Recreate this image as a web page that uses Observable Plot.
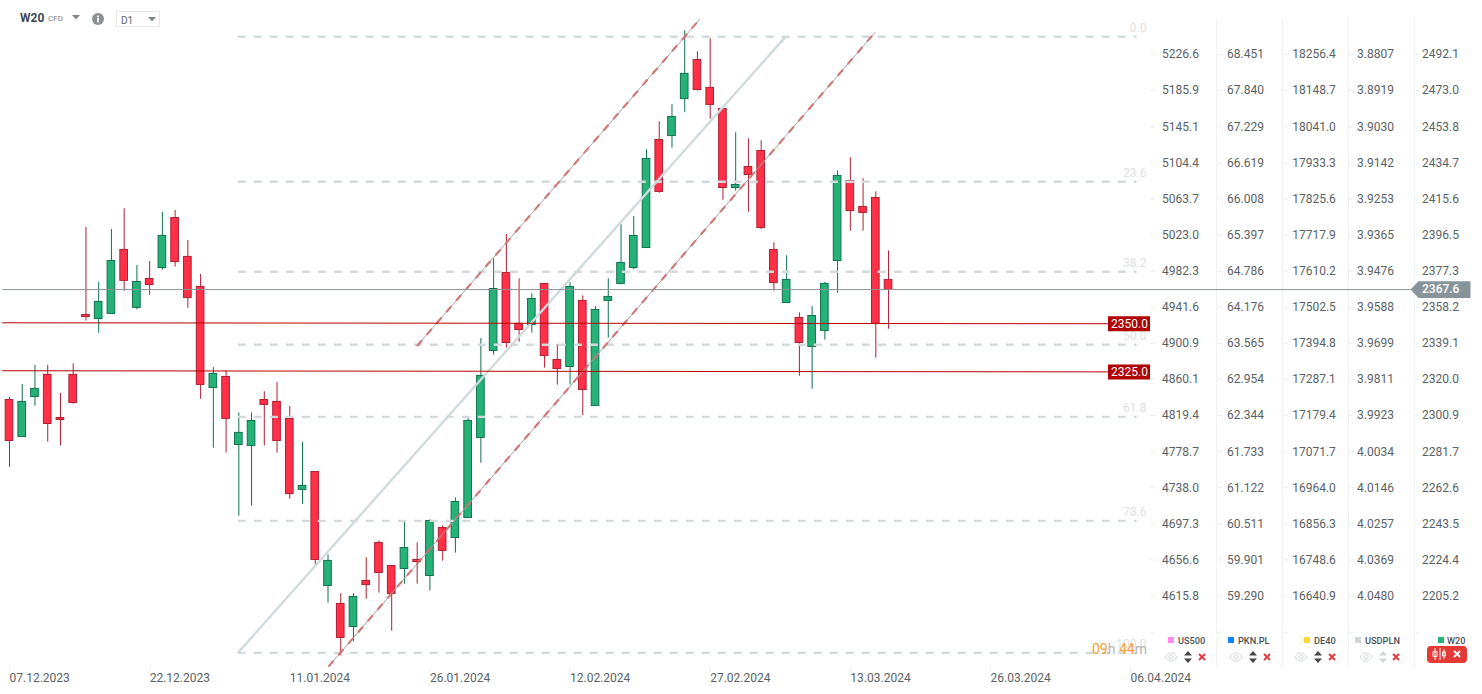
<!DOCTYPE html>
<html><head><meta charset="utf-8">
<script src="https://cdn.jsdelivr.net/npm/d3@7"></script>
<script src="https://cdn.jsdelivr.net/npm/@observablehq/plot@0.6"></script>
<style>
html,body{margin:0;padding:0;background:#fff;width:1482px;height:694px;overflow:hidden;font-family:Roboto,sans-serif}
#wrap{position:relative;width:1482px;height:694px}
#wrap svg.ov{position:absolute;overflow:visible}
.t{position:absolute;white-space:nowrap;line-height:1}
</style></head><body><div id="wrap"></div>
<script>
const opens=[2309.1,2289.5,2310.7,2322.4,2299.6,2322.4,2354.1,2352.0,2354.7,2388.6,2357.9,2373.2,2379.0,2405.5,2384.9,2369.0,2315.5,2321.3,2285.3,2284.8,2309.1,2308.1,2299.1,2261.5,2271.0,2210.6,2201.1,2188.9,2213.3,2233.4,2221.2,2219.6,2224.4,2215.9,2241.3,2236.0,2246.6,2289.0,2335.1,2376.4,2349.4,2348.8,2370.6,2330.3,2326.6,2361.6,2305.9,2361.6,2370.6,2379.0,2389.6,2446.8,2448.9,2468.5,2489.2,2474.4,2463.2,2421.4,2432.5,2441.0,2388.6,2360.5,2352.6,2337.2,2345.7,2382.7,2425.1,2411.3,2416.1,2372.7];
const highs=[2310.5,2317.3,2327.4,2327.4,2312.6,2328.3,2400.5,2371.4,2399.4,2410.4,2380.4,2382.5,2408.4,2409.5,2393.6,2375.6,2326.3,2324.6,2302.3,2302.3,2313.5,2318.4,2305.7,2286.6,2271.1,2227.1,2206.5,2206.5,2225.6,2234.6,2221.3,2244.6,2233.5,2245.7,2242.5,2257.3,2299.2,2341.7,2383.9,2396.8,2373.3,2365.4,2370.7,2338.4,2371.2,2364.3,2358.5,2373.3,2401.9,2406.3,2441.6,2456.5,2465.5,2504.7,2493.5,2500.4,2463.3,2450.6,2447.5,2446.4,2392.4,2385.5,2355.3,2358.5,2371.4,2430.5,2437.4,2426.3,2419.4,2388.1];
const lows=[2273.5,2289.5,2305.8,2286.8,2284.7,2306.9,2350.9,2344.5,2354.7,2366.8,2356.9,2364.6,2377.9,2379.5,2357.7,2309.5,2283.6,2281.0,2247.6,2252.9,2284.7,2281.0,2256.6,2253.9,2221.3,2201.5,2173.6,2181.1,2203.6,2206.8,2186.7,2211.6,2211.6,2207.9,2223.8,2228.0,2246.6,2275.6,2332.9,2336.6,2339.7,2344.5,2326.0,2317.0,2317.0,2300.8,2305.9,2341.9,2370.1,2378.1,2389.6,2418.6,2442.5,2461.5,2472.7,2457.8,2414.9,2419.7,2408.6,2399.3,2366.8,2360.5,2321.7,2314.8,2340.8,2365.7,2398.5,2398.5,2331.3,2346.6];
const closes=[2287.4,2308.1,2315.0,2296.4,2298.5,2307.5,2353.1,2361.0,2382.7,2372.2,2371.6,2370.0,2396.0,2382.2,2363.1,2317.1,2322.9,2299.1,2291.7,2298.0,2306.5,2287.4,2259.3,2263.6,2224.4,2223.9,2183.1,2204.8,2211.1,2217.5,2206.4,2230.7,2223.3,2245.0,2229.2,2255.1,2298.0,2321.8,2367.9,2339.3,2346.2,2362.6,2332.4,2325.5,2369.0,2314.4,2356.8,2363.7,2381.7,2396.0,2436.8,2419.3,2459.0,2481.8,2473.3,2465.4,2421.4,2423.0,2428.3,2400.2,2371.1,2372.7,2339.3,2353.6,2370.6,2427.8,2409.2,2408.2,2349.4,2367.4];

const dateIdx=[0,11,22,33,44,55,66,77,88];
const dateLabels=["07.12.2023","22.12.2023","11.01.2024","26.01.2024","12.02.2024","27.02.2024","13.03.2024","26.03.2024","06.04.2024"];

const tickW20=[2492.1,2473.0,2453.8,2434.7,2415.6,2396.5,2377.3,2358.2,2339.1,2320.0,2300.9,2281.7,2262.6,2243.5,2224.4,2205.2];
const tickUS500=["5226.6","5185.9","5145.1","5104.4","5063.7","5023.0","4982.3","4941.6","4900.9","4860.1","4819.4","4778.7","4738.0","4697.3","4656.6","4615.8"];
const tickPKN=["68.451","67.840","67.229","66.619","66.008","65.397","64.786","64.176","63.565","62.954","62.344","61.733","61.122","60.511","59.901","59.290"];
const tickDE40=["18256.4","18148.7","18041.0","17933.3","17825.6","17717.9","17610.2","17502.5","17394.8","17287.1","17179.4","17071.7","16964.0","16856.3","16748.6","16640.9"];
const tickUSDPLN=["3.8807","3.8919","3.9030","3.9142","3.9253","3.9365","3.9476","3.9588","3.9699","3.9811","3.9923","4.0034","4.0146","4.0257","4.0369","4.0480"];
const tickLabelW20=["2492.1","2473.0","2453.8","2434.7","2415.6","2396.5","2377.3","2358.2","2339.1","2320.0","2300.9","2281.7","2262.6","2243.5","2224.4","2205.2"];

const fibLevels=[2501.5,2424.7,2377.0,2338.4,2300.2,2245.1,2175.2];
const fibLabels=["0.0","23.6","38.2","50.0","61.8","78.6","100.0"];
const midChannelX=[17.97,60.89], midChannelY=[2175.5,2501.3];
const lowChannelX=[25.09,67.95], lowChannelY=[2168.3,2503.9];
const upChannelX=[32.02,54.16], upChannelY=[2338.0,2510.6];
const lastPrice=2367.6;
const level1Y=[2350.0,2349.5], level2Y=[2324.6,2324.0];
const levelLabels=["2350.0","2325.0"];

const GREEN="#26b276",GREEN_D="#0f7350",RED="#ff3047",RED_D="#b01f33";
const ix=px=>(px-9)/12.74;   // frame furniture: pixel to bar index
const idx=d3.range(opens.length);
const isUp=i=>closes[i]>=opens[i];
const axisCol="#5a6266";
const cols=[[1161.5,tickUS500],[1226.5,tickPKN],[1291.7,tickDE40],[1356.5,tickUSDPLN],[1421.5,tickLabelW20]];
const tickDash=[[1150,1155],[1217,1222],[1283,1288],[1349,1354],[1415,1419]];
const tickAll=[...tickW20,2186.1];
const seg=(xs,ys)=>xs.map((x,i)=>({x,y:ys[i]}));

const plot=Plot.plot({
  width:1482,height:694,margin:0,
  style:{background:"transparent",fontFamily:"Roboto,sans-serif",overflow:"visible"},
  x:{type:"linear",domain:[0,88],range:[9,9+12.74*88],axis:null},
  y:{type:"linear",domain:[2492.1,2205.2],range:[54,595.7],axis:null},
  marks:[
    Plot.ruleX([1216,1282,1348,1414].map(ix),{y1:2511.2,y2:2166.9,stroke:"#f1f2f3"}),
    ...tickDash.map(([a,b])=>Plot.ruleY(tickAll,{x1:ix(a),x2:ix(b),stroke:"#eceeef"})),
    Plot.ruleX(dateIdx,{y1:2167.4,y2:2164.7,stroke:"#eceeef"}),
    Plot.ruleX(idx,{x:i=>i,y1:i=>highs[i],y2:i=>lows[i],stroke:i=>isUp(i)?GREEN_D:RED_D,strokeWidth:1,ariaLabel:"wick"}),
    Plot.rect(idx,{x1:i=>i-0.3,x2:i=>i+0.3,y1:i=>Math.max(opens[i],closes[i]),y2:i=>Math.min(opens[i],closes[i]),fill:i=>isUp(i)?GREEN:RED,stroke:i=>isUp(i)?GREEN_D:RED_D,strokeWidth:1,ariaLabel:"body"}),
    Plot.ruleY(fibLevels,{x1:17.96,x2:88.5,stroke:"#d2dade",strokeWidth:2.4,strokeDasharray:"8 8"}),
    Plot.text(fibLevels,{y:d=>d,text:(d,i)=>fibLabels[i],frameAnchor:"right",dx:-336,dy:-9,fill:"#dde1e4",fontSize:12}),
    Plot.line(seg(midChannelX,midChannelY),{x:"x",y:"y",stroke:"#d0dadd",strokeWidth:2.4}),
    Plot.line(seg(lowChannelX,lowChannelY),{x:"x",y:"y",stroke:"#a6a6a6",strokeWidth:1}),
    Plot.line(seg(lowChannelX,lowChannelY),{x:"x",y:"y",stroke:"#cc6f6f",strokeWidth:2.2,strokeDasharray:"6 9",strokeOpacity:0.9}),
    Plot.line(seg(upChannelX,upChannelY),{x:"x",y:"y",stroke:"#a6a6a6",strokeWidth:1}),
    Plot.line(seg(upChannelX,upChannelY),{x:"x",y:"y",stroke:"#cc6f6f",strokeWidth:2.2,strokeDasharray:"6 9",strokeOpacity:0.9}),
    Plot.line(seg([ix(2),ix(1410)],[lastPrice,lastPrice]),{x:"x",y:"y",stroke:"#8b9497",strokeWidth:1}),
    Plot.line(seg([ix(2),ix(1108)],level1Y),{x:"x",y:"y",stroke:"#b80000",strokeWidth:1}),
    Plot.line(seg([ix(2),ix(1108)],level2Y),{x:"x",y:"y",stroke:"#b80000",strokeWidth:1}),
    Plot.ruleY([level1Y[1],level2Y[1]],{x1:ix(1108),x2:ix(1150),stroke:"#b00000",strokeWidth:15}),
    Plot.text([level1Y[1],level2Y[1]],{x:ix(1129),y:d=>d,text:(d,i)=>levelLabels[i],fill:"#fff",fontSize:12}),
    Plot.line(seg([ix(1410),ix(1418),ix(1470),ix(1470),ix(1418)],[lastPrice,lastPrice+4.4,lastPrice+4.4,lastPrice-4.4,lastPrice-4.4]),{x:"x",y:"y",fill:"#88949a",stroke:"none",curve:"linear-closed"}),
    Plot.text([lastPrice],{y:d=>d,text:d=>d.toFixed(1),frameAnchor:"left",dx:1421.5,fill:"#fff",fontSize:12,fontWeight:500}),
    ...cols.map(([x,labels])=>Plot.text(tickW20,{y:d=>d,text:(d,i)=>labels[i],frameAnchor:"left",dx:x,fill:axisCol,fontSize:12})),
    Plot.text(dateIdx,{x:d=>d,text:(d,i)=>dateLabels[i],frameAnchor:"bottom",dy:-13,dx:0,textAnchor:"start",fill:axisCol,fontSize:12})
  ]
});
// snap candles to the pixel grid
plot.querySelectorAll('[aria-label="wick"] line').forEach(l=>{
  const x=Math.floor(+l.getAttribute("x1"));
  l.setAttribute("x1",x);l.setAttribute("x2",x);
  l.setAttribute("y1",Math.round(+l.getAttribute("y1")));
  l.setAttribute("y2",Math.round(+l.getAttribute("y2")));
});
plot.querySelectorAll('[aria-label="body"] rect').forEach(r=>{
  const x=+r.getAttribute("x"),w=+r.getAttribute("width"),y=+r.getAttribute("y"),h=+r.getAttribute("height");
  const col=Math.floor(x+w/2);
  r.setAttribute("x",col-3.5);r.setAttribute("width",8);
  r.setAttribute("y",Math.floor(y)+.5);r.setAttribute("height",Math.max(1,Math.round(h)));
});
const wrap=document.getElementById("wrap");
wrap.appendChild(plot);

function txt(s,x,y,o={}){const e=document.createElement("div");e.className="t";e.textContent=s;
  e.style.left=x+"px";e.style.top=y+"px";e.style.fontSize=(o.size||12)+"px";e.style.color=o.color||"#444";
  if(o.weight)e.style.fontWeight=o.weight;wrap.appendChild(e);return e;}
function svg(x,y,w,h,inner){const d=document.createElementNS("http://www.w3.org/2000/svg","svg");
  d.setAttribute("class","ov");d.setAttribute("width",w);d.setAttribute("height",h);d.setAttribute("viewBox",`0 0 ${w} ${h}`);
  d.style.left=x+"px";d.style.top=y+"px";d.innerHTML=inner;wrap.appendChild(d);}
function box(x,y,w,h,bg,extra=""){const e=document.createElement("div");e.style.cssText=`position:absolute;left:${x}px;top:${y}px;width:${w}px;height:${h}px;background:${bg};${extra}`;wrap.appendChild(e);return e;}

// header
txt("W20",20,12,{size:12,weight:700,color:"#3d4a52"});
txt("CFD",48,15,{size:8,color:"#7a8286"});
svg(72,15,8,5,'<path d="M0 0H8L4 4.5Z" fill="#80878b"/>');
svg(92,13,12,12,'<circle cx="6" cy="6" r="6" fill="#8a8f92"/><rect x="5" y="5" width="2" height="4.5" fill="#fff"/><rect x="5" y="2.6" width="2" height="1.6" fill="#fff"/>');
box(116,11,42,14,"#fff","border:1px solid #e6e8e9");
txt("D1",121,16,{size:10,color:"#5e666b"});
svg(148,17,8,5,'<path d="M0 0H8L4 4.5Z" fill="#80878b"/>');

// timer
const tm=txt("",1092,642,{size:14});
tm.innerHTML='<span style="color:#f5a02e">09</span><span style="color:#b0b6b9">h</span> <span style="color:#f5a02e">44</span><span style="color:#b0b6b9">m</span>';

// legend
const legend=[["US500","#ff88ee",1168,1178,1164,1187.7,1201.7,"#444"],["PKN.PL","#0a84ff",1228,1238,1229,1252.7,1266.7,"#444"],["DE40","#ffd633",1304,1314,1294,1317.7,1331.7,"#444"],["USDPLN","#cfd5da",1355.3,1365,1359,1382.7,1396.3,"#cfd5da"]];
const eye='<path d="M1 5C4-0.5 10-0.5 13 5C10 10.5 4 10.5 1 5Z" fill="none" stroke="#d6dbdd" stroke-width="1"/><circle cx="7" cy="5" r="2.2" fill="none" stroke="#d6dbdd"/>';
const crossRed='<path d="M1 1L7 7M7 1L1 7" stroke="#e8343a" stroke-width="1.8"/>';
legend.forEach(([n,c,sx,tx,ex,ax,xx,ac])=>{
  box(sx,637,6,6,c);
  txt(n,tx,636,{size:9.2,weight:500,color:"#4a5257"});
  svg(ex,652,14,10,eye);
  svg(ax-4,651,8,12,`<path d="M0 4.5L4 0L8 4.5ZM0 7.5L4 12L8 7.5Z" fill="${ac}"/>`);
  svg(xx-4,653,8,8,crossRed);
});
box(1438,637,6,6,GREEN);
txt("W20",1447,636,{size:9.2,weight:500,color:"#4a5257"});
box(1427,646,40,16.5,"#e53935","border-radius:4px");
svg(1433,648,14,12,'<path d="M2 0V12M2 3.5H4V8.5H0V3.5ZM7 0V12" stroke="#fff" fill="none"/><path d="M11 1V11M9.5 4H12.5V8H9.5Z" stroke="#fff" fill="none"/>');
svg(1453,650,8,8,'<path d="M1 1L7 7M7 1L1 7" stroke="#fff" stroke-width="1.8"/>');
</script></body></html>
